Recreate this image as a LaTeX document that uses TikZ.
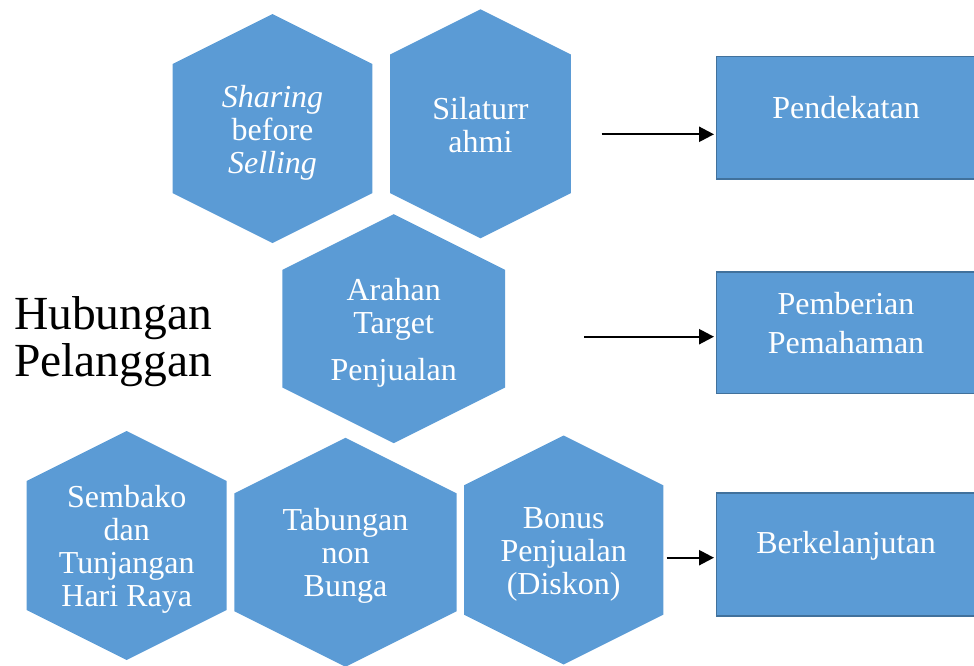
\documentclass[tikz,border=0pt]{standalone}
\usepackage{fontspec}
\setmainfont{Liberation Serif}
\usetikzlibrary{arrows.meta}
\definecolor{hexblue}{HTML}{5B9BD5}
\definecolor{rimblue}{HTML}{41719C}

% pointy-top hexagon: centre x, centre y, half width, half height
\newcommand{\honeycell}[4]{%
  \fill[hexfill] ({#1},{#2-#4}) -- ({#1+#3},{#2-#4+#3/2}) -- ({#1+#3},{#2+#4-#3/2})
    -- ({#1},{#2+#4}) -- ({#1-#3},{#2+#4-#3/2}) -- ({#1-#3},{#2-#4+#3/2}) -- cycle;}

\begin{document}
\begin{tikzpicture}[x=1pt,y=-1pt,
  hexfill/.style={fill=hexblue},
  hexlabel/.style={text=white, align=center, inner sep=0pt,
    font=\fontsize{32}{33}\selectfont},
  stagebox/.style={fill=hexblue, draw=rimblue, line width=1.6pt,
    minimum width=262pt, inner sep=0pt, anchor=north west},
  stagelabel/.style={text=white, align=center, inner sep=0pt,
    font=\fontsize{32}{38.5}\selectfont},
  titlelabel/.style={text=black, inner sep=0pt, anchor=base west,
    font=\fontsize{47.5}{47.5}\selectfont},
  flow/.style={-{Triangle[length=15pt,width=15pt]}, line width=2.4pt, black,
    shorten >=1.5pt}
]
\useasboundingbox (0,0) rectangle (974,666);
\clip (0,0) rectangle (974,666);

% honeycomb
\honeycell{272.5}{128.6}{99.8}{114.5}
\honeycell{480.4}{123.8}{90.4}{114.5}
\honeycell{393.7}{328.7}{111.3}{114.5}
\honeycell{126.7}{545.5}{100}{114.5}
\honeycell{345.5}{552.3}{111.2}{114.5}
\honeycell{563.7}{550}{99.7}{114.5}

\node[hexlabel] (sharing) at (272.5,133) {\textit{Sharing}\\before\\\textit{Selling}};
\node[hexlabel] (silat) at (480.4,125) {Silaturr\\ahmi};
\node[hexlabel] (arahan) at (393.7,333) {Arahan\\Target\\[14pt]Penjualan};
\node[hexlabel] (sembako) at (126.7,549.5) {Sembako\\dan\\Tunjangan\\Hari Raya};
\node[hexlabel] (tabungan) at (345.5,556) {Tabungan\\non\\Bunga};
\node[hexlabel] (bonus) at (563.7,554) {Bonus\\Penjualan\\(Diskon)};

% title
\node[titlelabel] (hub) at (14,329) {Hubungan};
\node[titlelabel] (pel) at (14,376) {Pelanggan};

% stage boxes
\node[stagebox, minimum height=122.6pt] (p1) at (715.5,55.7) {};
\node[stagebox, minimum height=121.7pt] (p2) at (715.5,271) {};
\node[stagebox, minimum height=122.7pt] (p3) at (715.5,492.3) {};

\node[stagelabel] (t1) at (846,107.5) {Pendekatan};
\node[stagelabel] (t2) at (846,323) {Pemberian\\Pemahaman};
\node[stagelabel] (t3) at (846,545.5) {Berkelanjutan};

% arrows
\coordinate (a1) at (601.7,134.3);
\coordinate (a2) at (584,336.7);
\coordinate (a3) at (666.7,557.7);
\draw[flow] (a1) -- (a1 -| p1.west);
\draw[flow] (a2) -- (a2 -| p2.west);
\draw[flow] (a3) -- (a3 -| p3.west);
\end{tikzpicture}
\end{document}
